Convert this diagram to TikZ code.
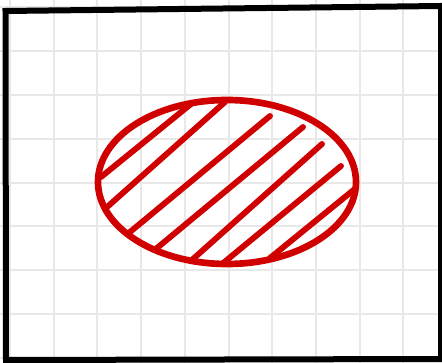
\documentclass[tikz,border=0pt]{standalone}
\usepackage{xcolor}
\usepackage{tikz}
\definecolor{hatchred}{RGB}{208,0,0}

\begin{document}
\begin{tikzpicture}[
		x=0.75pt, y=-0.75pt,
		gridline/.style={draw=gray!18, line width=1.5pt},
		frame/.style={draw=black, line width=4.5pt, line join=miter},
		blob/.style={draw=hatchred, line width=5pt},
		hatch/.style={draw=hatchred, line width=4.4pt, line cap=round}
	]
	\useasboundingbox (0,0) rectangle (442,363);

	% background grid, runs under the frame to the page edge
	\foreach \i in {0,...,10}
		\draw[gridline] ({10+43.7*\i},0) -- ({10+43.7*\i},363);
	\foreach \j in {0,...,8}
		\draw[gridline] (0,{7.5+43.8*\j}) -- (442,{7.5+43.8*\j});

	% outer frame, slightly skewed like the sketch
	\draw[frame] (5.5,11) -- (441,6) -- (441,359) -- (6,360) -- cycle;

	% hatched region
	\draw[blob] (227,182) ellipse [x radius=129, y radius=82];
	\foreach \a/\b in {{(101,177)}/{(191,104)}, {(106,208)}/{(225,102)},
			{(130,232)}/{(270,116)}, {(157,248)}/{(303,127)},
			{(193,259)}/{(322,144)}, {(222,264)}/{(341,166)},
			{(270,258)}/{(356,188)}}
		\draw[hatch] \a -- \b;
\end{tikzpicture}
\end{document}
